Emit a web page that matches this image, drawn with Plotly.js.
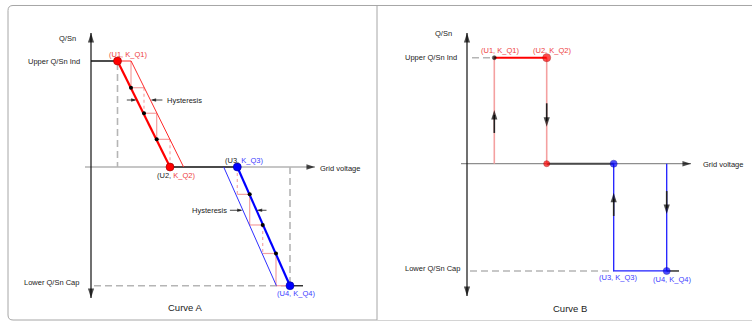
<!DOCTYPE html>
<html><head><meta charset="utf-8">
<script src="https://cdn.plot.ly/plotly-3.0.1.min.js"></script>
<style>html,body{margin:0;padding:0;background:#fff;}#chart{width:752px;height:322px;}</style>
</head><body><div id="chart"></div>
<script>
// ---------- Curve A (left) ----------
const U_A = [0.265, 0.79, 1.463, 1.99];       // U1..U4 on the grid-voltage axis
const Q_A = [1.0, -1.12];                     // Upper Q/Sn Ind, Lower Q/Sn Cap
const hystA = 0.136;                          // hysteresis band width
const redStepU = [0.40, 0.53, 0.657];         // step points on the K_Q1-K_Q2 line
const redStepQ = [0.748, 0.507, 0.261];
const blueStepU = [1.587, 1.717, 1.85];       // step points on the K_Q3-K_Q4 line
const blueStepQ = [-0.258, -0.547, -0.816];
const hystQ = [0.632, -0.408];                // level of the "Hysteresis" markers
// ---------- Curve B (right) ----------
const U_B = [0.273, 0.797, 1.467, 1.997];
const Q_B = [1.0, -1.012];
const arrowStemB = [[0.29, 0.46], [0.57, 0.40], [-0.493, -0.33], [-0.258, -0.42]];
const arrowTipB = [0.507, 0.349, -0.274, -0.475];
// ---------- axes extents & labels ----------
const axisX = [-0.06, 2.24];
const axisYA = [1.264, -1.236];
const axisYB = [1.233, -1.248];
const tailEnd = 2.12;
const pointLabels = ['(U1, K_Q1)', '(U2, K_Q2)', '(U3, K_Q3)', '(U4, K_Q4)'];
const titles = ['Curve A', 'Curve B'];

const RED = '#ff0000', BLUE = '#0000ff', PINK = '#f4a0a0', LRED = '#ee3c3c', LBLUE = '#3b3bff';
const FONT = 'Liberation Sans, Arial, sans-serif';
const ax = p => p === 'A' ? {xaxis: 'x', yaxis: 'y'} : {xaxis: 'x2', yaxis: 'y2'};
function line(p, xs, ys, color, width, dash) {
  return Object.assign({type: 'scatter', mode: 'lines', x: xs, y: ys, line: {color: color, width: width, dash: dash || 'solid'}, hoverinfo: 'skip', showlegend: false}, ax(p));
}
function pts(p, xs, ys, marker) {
  return Object.assign({type: 'scatter', mode: 'markers', x: xs, y: ys, marker: marker, hoverinfo: 'skip', showlegend: false, cliponaxis: false}, ax(p));
}
const atQ = (x0, q0, x1, q1, q) => x0 + (q - q0) / (q1 - q0) * (x1 - x0);

const [U1a, U2a, U3a, U4a] = U_A, [upA, loA] = Q_A;
const [U1b, U2b, U3b, U4b] = U_B, [upB, loB] = Q_B;
const [r0, r1, r2] = redStepU, [rq0, rq1, rq2] = redStepQ;
const [b0, b1, b2] = blueStepU, [bq0, bq1, bq2] = blueStepQ;

// hysteresis arrow tips
const hrThick = atQ(U1a, upA, U2a, 0, hystQ[0]), hrThin = hrThick + hystA;
const hbThick = atQ(U3a, 0, U4a, loA, hystQ[1]), hbThin = hbThick - hystA;

const traces = [
  // ---- A ----
  line('A', axisX, [0, 0], '#8e8e8e', 1.2),
  line('A', [U2a, U3a], [0, 0], '#4a4a4a', 2),
  line('A', [U1a, U1a, null, 0.03, U4a, null, U4a, U4a], [upA - 0.02, 0, null, loA, loA, null, 0, loA], '#b5b5b5', 1.6, '7px,4px'),
  line('A', [0, U1a], [upA, upA], '#111', 1.5),
  line('A', [U4a, tailEnd], [loA, loA], '#333', 1.5),
  line('A', [r0, r0, null, r0, r1, null, r1, r2, null, r2, r2, null, r2, U2a], [upA, rq0, null, rq0, rq0, null, rq1, rq1, null, rq1, rq2, null, rq2, rq2], PINK, 1.2),
  line('A', [r1, r1, null, U2a, U2a], [rq0, rq1, null, rq2, 0], '#f6aaaa', 1.2, 'dot'),
  line('A', [U3a, b0, null, b0, b0, null, b0, b1, null, b1, b2, null, b2, b2, null, b2, U4a], [bq0, bq0, null, bq0, bq1, null, bq1, bq1, null, bq2, bq2, null, bq2, loA, null, loA, loA], PINK, 1.2),
  line('A', [U3a, U3a, null, b1, b1], [0, bq0, null, bq1, bq2], '#f6aaaa', 1.2, 'dot'),
  line('A', [U1a, U1a + hystA, U2a + hystA], [upA, upA, 0], '#ff2a2a', 1),
  line('A', [U3a - hystA, U4a - hystA], [0, loA], '#2f2fff', 1),
  line('A', [U1a, U2a], [upA, 0], RED, 2.2),
  line('A', [U3a, U4a], [0, loA], BLUE, 2.2),
  line('A', [0, 0], axisYA, '#111', 1.2),
  line('A', [hrThick - 0.1, hrThick - 0.02, null, hrThin + 0.02, hrThin + 0.12, null, hbThin - 0.13, hbThin - 0.02, null, hbThick + 0.02, hbThick + 0.1],
            [hystQ[0], hystQ[0], null, hystQ[0], hystQ[0], null, hystQ[1], hystQ[1], null, hystQ[1], hystQ[1]], '#444', 1),
  pts('A', [0, 0, axisX[1], hrThick, hrThin, hbThin, hbThick], [axisYA[0], axisYA[1], 0, hystQ[0], hystQ[0], hystQ[1], hystQ[1]],
      {symbol: 'arrow', size: [10, 10, 9, 6, 6, 6, 6], angle: [0, 180, 90, 90, 270, 90, 270], color: '#000', line: {width: 0}}),
  pts('A', redStepU.concat(blueStepU), redStepQ.concat(blueStepQ), {size: 4, color: '#000'}),
  pts('A', U_A, [upA, 0, 0, loA], {size: 8, color: [RED, RED, BLUE, BLUE], line: {color: ['#900', '#900', '#009', '#009'], width: 0.6}}),
  // ---- B ----
  line('B', axisX, [0, 0], '#8e8e8e', 1.2),
  line('B', [U2b, U3b], [0, 0], '#4a4a4a', 2),
  line('B', [0.05, U1b, null, 0.03, U3b], [upB, upB, null, loB, loB], '#b5b5b5', 1.6, '7px,4px'),
  line('B', [U1b, U1b, null, U2b, U2b], [upB, 0, null, upB, 0], PINK, 1.6),
  line('B', [U1b, U2b], [upB, upB], RED, 2),
  line('B', [U3b, U3b, U4b, U4b], [0, loB, loB, 0], '#1f1fff', 1.3),
  line('B', [U4b, tailEnd], [loB, loB], '#333', 1.5),
  line('B', [U1b, U1b, null, U2b, U2b, null, U3b, U3b, null, U4b, U4b],
            [arrowStemB[0][0], arrowStemB[0][1], null, arrowStemB[1][0], arrowStemB[1][1], null, arrowStemB[2][0], arrowStemB[2][1], null, arrowStemB[3][0], arrowStemB[3][1]], '#222', 1.6),
  line('B', [0, 0], axisYB, '#111', 1.2),
  pts('B', [0, 0, axisX[1], U1b, U2b, U3b, U4b], [axisYB[0], axisYB[1], 0].concat(arrowTipB),
      {symbol: 'arrow', size: [10, 10, 9, 10, 10, 10, 10], angle: [0, 180, 90, 0, 180, 0, 180], color: '#000', line: {width: 0}}),
  pts('B', [U1b, U2b, U2b, U3b, U4b], [upB, upB, 0, 0, loB], {size: [4, 8, 6, 7, 7], color: ['#000', RED, RED, BLUE, BLUE], line: {color: ['#000', '#900', '#900', '#009', '#009'], width: 0.6}})
];

function txt(p, x, y, text, xanchor, opts) {
  const a = {xref: p === 'A' ? 'x' : 'x2', yref: p === 'A' ? 'y' : 'y2', x: x, y: y, text: text, showarrow: false,
             xanchor: xanchor, yanchor: 'middle', font: {family: FONT, size: 7.5, color: '#222'}};
  return Object.assign(a, opts || {});
}
const col = (s, c) => '<span style="color:' + c + '">' + s + '</span>';
const split = s => [s.slice(0, 5), s.slice(5)];
const annotations = [
  txt('A', -0.13, 1.217, 'Q/Sn', 'right'),
  txt('A', -0.093, upA, 'Upper Q/Sn Ind', 'right'),
  txt('A', -0.10, -1.085, 'Lower Q/Sn Cap', 'right'),
  txt('A', 2.27, -0.01, 'Grid voltage', 'left'),
  txt('A', 0.37, 1.066, col(pointLabels[0], LRED), 'center'),
  txt('A', 0.845, -0.078, split(pointLabels[1])[0] + col(split(pointLabels[1])[1], LRED), 'center'),
  txt('A', 1.53, 0.066, split(pointLabels[2])[0] + col(split(pointLabels[2])[1], LBLUE), 'center'),
  txt('A', 2.05, -1.19, col(pointLabels[3], LBLUE), 'center'),
  txt('A', 0.74, hystQ[0], 'Hysteresis', 'left'),
  txt('A', 1.375, hystQ[1], 'Hysteresis', 'right'),
  txt('A', 0.94, -1.33, titles[0], 'center', {font: {family: FONT, size: 9.5, color: '#222'}}),
  txt('B', -0.13, 1.224, 'Q/Sn', 'right'),
  txt('B', -0.08, upB, 'Upper Q/Sn Ind', 'right'),
  txt('B', -0.05, -0.99, 'Lower Q/Sn Cap', 'right'),
  txt('B', 2.34, -0.012, 'Grid voltage', 'left'),
  txt('B', 0.33, 1.066, col(pointLabels[0], LRED), 'center'),
  txt('B', 0.85, 1.066, col(pointLabels[1], LRED), 'center'),
  txt('B', 1.507, -1.075, col(pointLabels[2], LBLUE), 'center'),
  txt('B', 2.05, -1.09, col(pointLabels[3], LBLUE), 'center'),
  txt('B', 1.03, -1.362, titles[1], 'center', {font: {family: FONT, size: 9.5, color: '#222'}})
];

// panel frames (paper coordinates, from pixel positions)
const W = 752, H = 322;
const P = (x, y) => (x / W).toFixed(5) + ',' + (1 - y / H).toFixed(5);
const shapes = [
  {type: 'path', xref: 'paper', yref: 'paper', line: {color: '#a6a6a6', width: 1},
   path: 'M' + P(377, 5.5) + 'L' + P(13, 5.5) + 'Q' + P(8, 5.5) + ' ' + P(8, 10.5) + 'L' + P(8, 315) + 'Q' + P(8, 320) + ' ' + P(13, 320) + 'L' + P(377, 320)},
  {type: 'path', xref: 'paper', yref: 'paper', line: {color: '#a6a6a6', width: 1},
   path: 'M' + P(752, 5.5) + 'L' + P(377, 5.5) + 'L' + P(377, 320)},
  {type: 'path', xref: 'paper', yref: 'paper', line: {color: '#d4d4d4', width: 1},
   path: 'M' + P(377, 320.5) + 'L' + P(752, 320.5)}
];

const hidden = {visible: false, fixedrange: true, showgrid: false, zeroline: false};
const layout = {
  width: W, height: H, autosize: false,
  margin: {l: 0, r: 0, t: 0, b: 0, pad: 0},
  paper_bgcolor: '#fff', plot_bgcolor: '#fff', showlegend: false,
  xaxis: Object.assign({range: [-0.91, 6.61]}, hidden),
  yaxis: Object.assign({range: [-1.4623, 1.5755]}, hidden),
  xaxis2: Object.assign({range: [-4.67, 2.85], overlaying: 'x'}, hidden),
  yaxis2: Object.assign({range: [-1.4934, 1.5443], overlaying: 'y'}, hidden),
  annotations: annotations, shapes: shapes
};
Plotly.newPlot('chart', traces, layout, {displayModeBar: false, staticPlot: true});
</script></body></html>
